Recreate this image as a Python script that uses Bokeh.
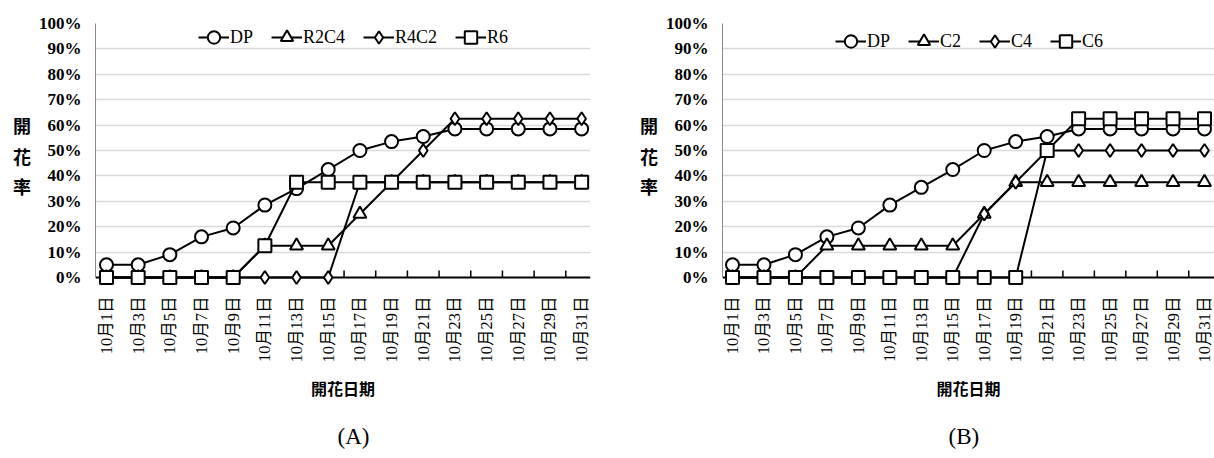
import numpy as np
from bokeh.plotting import figure
from bokeh.models import Range1d, FixedTicker, Span, Title
from bokeh.layouts import row
from bokeh.embed import file_html
from bokeh.resources import INLINE

# ---------------- data ----------------
dates = ["10月1日", "10月3日", "10月5日", "10月7日", "10月9日", "10月11日",
         "10月13日", "10月15日", "10月17日", "10月19日", "10月21日",
         "10月23日", "10月25日", "10月27日", "10月29日", "10月31日"]

y_ticks = [0, 10, 20, 30, 40, 50, 60, 70, 80, 90, 100]

# panel (A)
a_dp   = [5, 5, 9, 16, 19.5, 28.5, 35, 42.5, 50, 53.5, 55.5, 58.5, 58.5, 58.5, 58.5, 58.5]
a_r2c4 = [0, 0, 0, 0, 0, 12.5, 12.5, 12.5, 25, 37.5, 37.5, 37.5, 37.5, 37.5, 37.5, 37.5]
a_r4c2 = [0, 0, 0, 0, 0, 0, 0, 0, 37.5, 37.5, 50, 62.5, 62.5, 62.5, 62.5, 62.5]
a_r6   = [0, 0, 0, 0, 0, 12.5, 37.5, 37.5, 37.5, 37.5, 37.5, 37.5, 37.5, 37.5, 37.5, 37.5]
a_names = ["DP", "R2C4", "R4C2", "R6"]

# panel (B)
b_dp = [5, 5, 9, 16, 19.5, 28.5, 35.5, 42.5, 50, 53.5, 55.5, 58.5, 58.5, 58.5, 58.5, 58.5]
b_c2 = [0, 0, 0, 12.5, 12.5, 12.5, 12.5, 12.5, 25, 37.5, 37.5, 37.5, 37.5, 37.5, 37.5, 37.5]
b_c4 = [0, 0, 0, 0, 0, 0, 0, 0, 25, 37.5, 50, 50, 50, 50, 50, 50]
b_c6 = [0, 0, 0, 0, 0, 0, 0, 0, 0, 0, 50, 62.5, 62.5, 62.5, 62.5, 62.5]
b_names = ["DP", "C2", "C4", "C6"]

markers = ["circle", "triangle", "diamond", "square"]

SERIF = "'Liberation Serif', 'Noto Sans CJK TC'"
CJK = "Noto Sans CJK TC"

FRAME_H = 264
PX_PER_UNIT = 2.54  # 100% -> 254 px


def panel(series, names, x_start, x_end, frame_w, border_l, border_r,
          legend_loc, letter_dx, letter):
    xs = list(range(len(dates)))
    p = figure(frame_width=frame_w, frame_height=FRAME_H,
               min_border_left=border_l, min_border_right=border_r,
               min_border_top=23, min_border_bottom=10,
               x_range=Range1d(x_start, x_end),
               y_range=Range1d(-10 / PX_PER_UNIT, 100),
               output_backend="svg", toolbar_location=None,
               outline_line_color=None)

    # y axis
    p.yaxis.ticker = FixedTicker(ticks=y_ticks)
    p.yaxis.major_label_overrides = {v: f"{v}%" for v in y_ticks}
    p.yaxis.bounds = (0, 100)
    p.yaxis.axis_line_color = "#8c8c8c"
    p.yaxis.axis_line_width = 1
    p.yaxis.major_tick_out = 0
    p.yaxis.major_tick_in = 0
    p.yaxis.minor_tick_line_color = None
    p.yaxis.major_label_text_font = SERIF
    p.yaxis.major_label_text_font_style = "bold"
    p.yaxis.major_label_text_font_size = "17px"
    p.yaxis.major_label_text_color = "black"
    p.yaxis.major_label_standoff = 14
    p.yaxis.axis_label = "開\n花\n率"
    p.yaxis.axis_label_orientation = "horizontal"
    p.yaxis.axis_label_text_font = CJK
    p.yaxis.axis_label_text_font_style = "bold"
    p.yaxis.axis_label_text_font_size = "18px"
    p.yaxis.axis_label_text_line_height = 1.17
    p.yaxis.axis_label_text_color = "black"
    p.yaxis.axis_label_standoff = 5

    p.ygrid.ticker = FixedTicker(ticks=y_ticks[1:])
    p.ygrid.grid_line_color = "#d9d9d9"
    p.ygrid.grid_line_width = 1.5
    p.xgrid.visible = False

    # x axis
    p.xaxis.ticker = FixedTicker(ticks=xs)
    p.xaxis.major_label_overrides = {i: d for i, d in enumerate(dates)}
    p.xaxis.major_label_orientation = np.pi / 2
    p.xaxis.axis_line_color = None
    p.xaxis.major_tick_line_color = None
    p.xaxis.minor_tick_line_color = None
    p.xaxis.major_label_text_font = SERIF
    p.xaxis.major_label_text_font_size = "16.5px"
    p.xaxis.major_label_text_color = "black"
    p.xaxis.major_label_standoff = 3
    p.xaxis.axis_label = "開花日期"
    p.xaxis.axis_label_text_font = CJK
    p.xaxis.axis_label_text_font_style = "bold"
    p.xaxis.axis_label_text_font_size = "16px"
    p.xaxis.axis_label_text_color = "black"
    p.xaxis.axis_label_standoff = 10

    # panel letter below
    p.add_layout(Title(text=letter, align="left", offset=letter_dx,
                       text_font="Liberation Serif", text_font_size="23px",
                       text_font_style="normal", text_color="black",
                       standoff=38), "below")

    # zero axis line
    p.add_layout(Span(location=0, dimension="width", line_color="black",
                      line_width=2, level="underlay"))

    # small inner tick marks between categories (where not hidden by lines at 0)
    tks = [k + 0.5 for k in range(len(dates) - 1)
           if not any(s[k] == 0 and s[k + 1] == 0 for s in series)]
    p.segment(x0=tks, y0=[0] * len(tks), x1=tks, y1=[7 / PX_PER_UNIT] * len(tks),
              line_color="black", line_width=1.5)

    for vals, name, m in zip(series, names, markers):
        p.line(xs, vals, line_color="black", line_width=2, legend_label=name)
        p.scatter(xs, vals, marker=m, size=13, fill_color="white",
                  line_color="black", line_width=2, legend_label=name)

    lg = p.legend[0]
    lg.location = legend_loc
    lg.orientation = "horizontal"
    lg.padding = 0
    lg.margin = 0
    lg.spacing = 18
    lg.glyph_width = 31
    lg.glyph_height = 32
    lg.label_height = 32
    lg.label_standoff = 1
    lg.background_fill_alpha = 0
    lg.border_line_color = None
    lg.label_text_font = SERIF
    lg.label_text_font_size = "18px"
    lg.label_text_color = "black"
    return p


pa = panel([a_dp, a_r2c4, a_r4c2, a_r6], a_names, -0.347, 15.28, 495, 95, 45,
           (103, 234), 242, "(A)")
pb = panel([b_dp, b_c2, b_c4, b_c6], b_names, -0.318, 15.318, 492, 87, 0,
           (113, 230), 226, "(B)")

layout = row(pa, pb)
open("out.html", "w").write(file_html(layout, INLINE))
